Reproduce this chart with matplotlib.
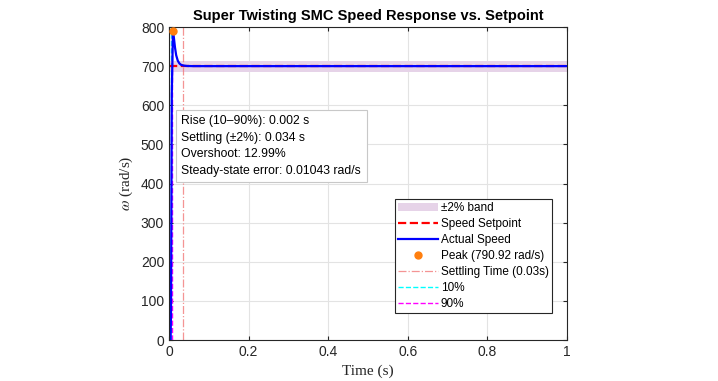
import numpy as np
import matplotlib.pyplot as plt

# speed response
time_s = [0.0, 0.004, 0.005, 0.007, 0.010, 0.012, 0.015, 0.018, 0.022, 0.026, 0.030, 0.036, 0.045, 0.06, 0.2, 0.5, 1.0]
speed = [0.0, 0.0, 70.0, 630.0, 790.92, 775.0, 748.0, 728.0, 714.0, 707.0, 703.5, 701.5, 700.4, 700.0, 700.0, 700.0, 700.0]
setpoint_t = [0.0, 1.0]
setpoint = [700.0, 700.0]
peak_t, peak_val = 0.010, 790.92
settle_t = 0.034
t10, t90 = 0.005, 0.007
band_pct = 0.02

stats = [
    "Rise (10\u201390%): 0.002 s",
    "Settling (\u00b12%): 0.034 s",
    "Overshoot: 12.99%",
    "Steady-state error: 0.01043 rad/s",
]

plt.rcParams["font.family"] = ["Liberation Sans", "DejaVu Sans"]
plt.rcParams["mathtext.fontset"] = "stix"
fig = plt.figure(figsize=(7.18, 3.81), dpi=100)
ax = fig.add_axes([169 / 718, 41 / 381, 398 / 718, 313 / 381])

sp = setpoint[0]
ax.fill_between([0, 1], sp * (1 - band_pct), sp * (1 + band_pct),
                color="#e6d3e8", lw=0, label="\u00b12% band")
ax.axvline(t10, color="cyan", ls="--", lw=1.0, label="10%")
ax.axvline(t90, color="magenta", ls="--", lw=1.0, label="90%")
ax.axvline(settle_t, color="#f27a7a", ls="-.", lw=0.9, alpha=0.8,
           label=f"Settling Time ({settle_t:.2f}s)")
ax.plot(setpoint_t, setpoint, "--", color="red", lw=1.6, label="Speed Setpoint")
ax.plot(time_s, speed, "-", color="blue", lw=1.6, label="Actual Speed")
ax.plot(peak_t, peak_val, "o", color="#ff7f0e", ms=5, label=f"Peak ({peak_val:.2f} rad/s)", zorder=5)

ax.set_xlim(0, 1)
ax.set_ylim(0, 800)
ax.set_xticks(np.arange(0, 1.01, 0.2))
ax.set_xticklabels(["0", "0.2", "0.4", "0.6", "0.8", "1"])
ax.set_yticks(np.arange(0, 801, 100))
ax.grid(True, color="#e3e3e3", lw=0.8)
ax.set_axisbelow(True)
ax.tick_params(direction="in", colors="#262626", labelsize=10, length=3, top=True, right=True,
               labeltop=False, labelright=False)
for s in ax.spines.values():
    s.set_color("#262626")
    s.set_linewidth(0.8)

ax.set_title("Super Twisting SMC Speed Response vs. Setpoint", fontsize=10.5, fontweight="bold", pad=5)
ax.set_xlabel("Time (s)", family="Liberation Serif", fontsize=11, color="#262626")
ax.set_ylabel(r"$\omega$ (rad/s)", family="Liberation Serif", fontsize=11, color="#262626")

ax.text(0.031, 575, "\n".join(stats), fontsize=8.8, va="top", ha="left", linespacing=1.5,
        bbox=dict(boxstyle="square,pad=0.45", fc="white", ec="#c8c8c8", lw=0.8))

# legend order as in the reference
h, l = ax.get_legend_handles_labels()
order = [0, 4, 5, 6, 3, 1, 2]
leg = ax.legend([h[i] for i in order], [l[i] for i in order],
                loc="lower right", bbox_to_anchor=(0.963, 0.085), fontsize=8.5, frameon=True,
                fancybox=False, edgecolor="#262626", framealpha=1, borderpad=0.3,
                labelspacing=0.33, handlelength=3.4, handletextpad=0.2, borderaxespad=0)
leg.get_frame().set_linewidth(0.8)

fig.savefig("out.png", dpi=100)
